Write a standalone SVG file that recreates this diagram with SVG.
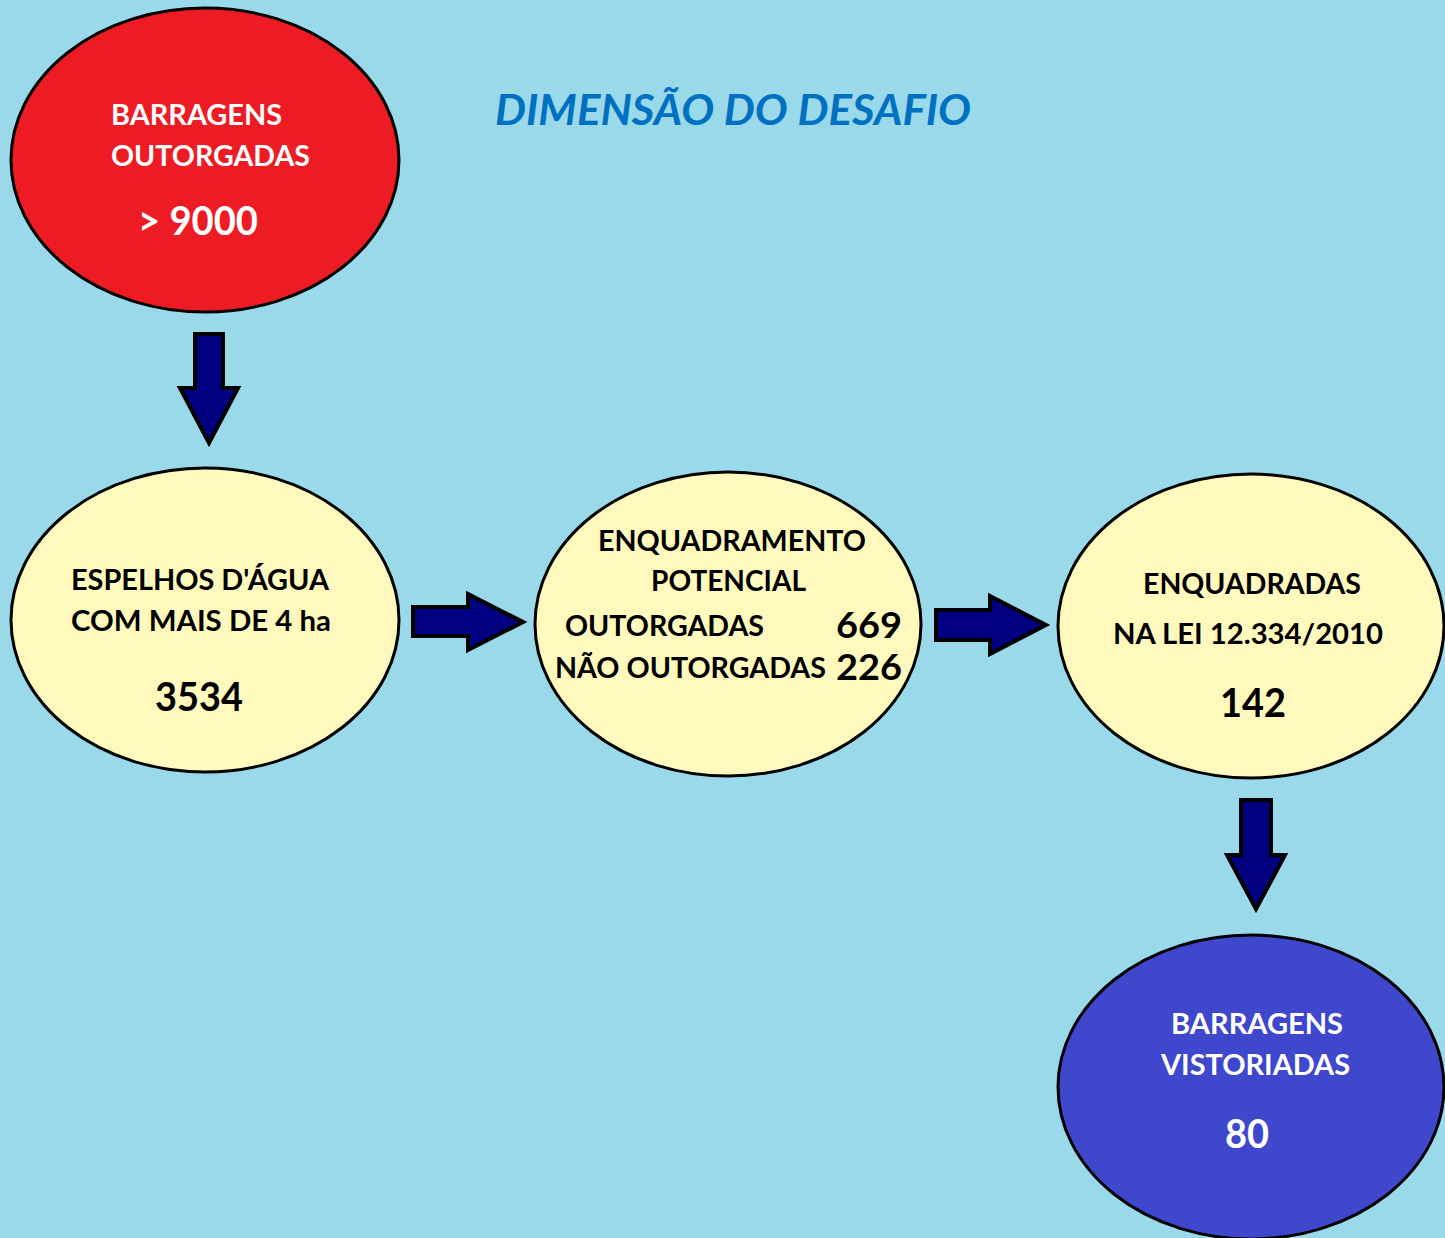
<svg xmlns="http://www.w3.org/2000/svg" width="1445" height="1238" viewBox="0 0 1445 1238">
<style>
.n{stroke:#000;stroke-width:3}
.t{font-family:Lato,"Open Sans","Liberation Sans",sans-serif;font-weight:bold;font-size:28px}
.w{fill:#fff}
.k{fill:#000}
.big{font-size:40px}
.mid{font-size:36px}
.arr{fill:#000080;stroke:#000;stroke-width:4;stroke-linejoin:miter}
</style>
<rect width="1445" height="1238" fill="#99D9EA"/>
<text x="495" y="125" font-family="Lato,'Open Sans','Liberation Sans',sans-serif" font-weight="bold" font-style="italic" font-size="42" fill="#0070C0" textLength="476" lengthAdjust="spacingAndGlyphs">DIMENSÃO DO DESAFIO</text>
<g id="connectors">
<polygon class="arr" points="195,334 223,334 223,388 238,388 209,443 180,388 195,388"/>
<polygon class="arr" points="413,607 468,607 468,594 523,622 468,650 468,636 413,636"/>
<polygon class="arr" points="936,610 990,610 990,596 1046,625 990,654 990,640 936,640"/>
<polygon class="arr" points="1241,800 1271,800 1271,855 1285,855 1256,909 1227,855 1241,855"/>
</g>
<g id="n1">
<ellipse class="n" cx="205" cy="160" rx="194" ry="152" fill="#ED1C24"/>
<text class="t w" x="111" y="125" textLength="171" lengthAdjust="spacingAndGlyphs">BARRAGENS</text>
<text class="t w" x="111" y="166" textLength="199" lengthAdjust="spacingAndGlyphs">OUTORGADAS</text>
<text class="t w big" x="138" y="235" textLength="120" lengthAdjust="spacingAndGlyphs">&gt; 9000</text>
</g>
<g id="n2">
<ellipse class="n" cx="205" cy="620" rx="194" ry="152" fill="#FFF9BD"/>
<text class="t k" x="71" y="590" textLength="258" lengthAdjust="spacingAndGlyphs">ESPELHOS D'ÁGUA</text>
<text class="t k" x="71" y="631" textLength="260" lengthAdjust="spacingAndGlyphs">COM MAIS DE 4 ha</text>
<text class="t k big" x="155" y="711" textLength="88" lengthAdjust="spacingAndGlyphs">3534</text>
</g>
<g id="n3">
<ellipse class="n" cx="728" cy="624" rx="193" ry="152" fill="#FFF9BD"/>
<text class="t k" x="598" y="551" textLength="268" lengthAdjust="spacingAndGlyphs">ENQUADRAMENTO</text>
<text class="t k" x="651" y="591" textLength="155" lengthAdjust="spacingAndGlyphs">POTENCIAL</text>
<text class="t k" x="565" y="636" textLength="199" lengthAdjust="spacingAndGlyphs">OUTORGADAS</text>
<text class="t k mid" x="836" y="638" textLength="66" lengthAdjust="spacingAndGlyphs">669</text>
<text class="t k" x="555" y="678" textLength="271" lengthAdjust="spacingAndGlyphs">NÃO OUTORGADAS</text>
<text class="t k mid" x="836" y="680" textLength="66" lengthAdjust="spacingAndGlyphs">226</text>
</g>
<g id="n4">
<ellipse class="n" cx="1251" cy="626" rx="193" ry="152" fill="#FFF9BD"/>
<text class="t k" x="1143" y="594" textLength="218" lengthAdjust="spacingAndGlyphs">ENQUADRADAS</text>
<text class="t k" x="1113" y="644" textLength="270" lengthAdjust="spacingAndGlyphs">NA LEI 12.334/2010</text>
<text class="t k big" x="1220" y="717" textLength="66" lengthAdjust="spacingAndGlyphs">142</text>
</g>
<g id="n5">
<ellipse class="n" cx="1251" cy="1087" rx="193" ry="152" fill="#3F48CC"/>
<text class="t w" x="1171" y="1034" textLength="172" lengthAdjust="spacingAndGlyphs">BARRAGENS</text>
<text class="t w" x="1161" y="1075" textLength="189" lengthAdjust="spacingAndGlyphs">VISTORIADAS</text>
<text class="t w big" x="1225" y="1148" textLength="44" lengthAdjust="spacingAndGlyphs">80</text>
</g>
</svg>
